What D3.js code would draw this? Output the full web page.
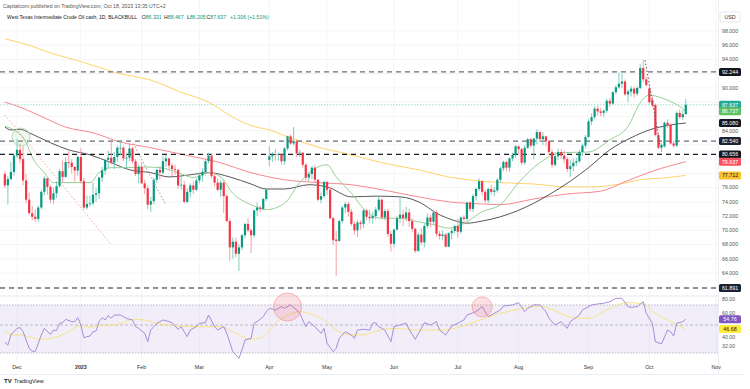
<!DOCTYPE html>
<html>
<head>
<meta charset="utf-8">
<script src="https://cdnjs.cloudflare.com/ajax/libs/d3/7.8.5/d3.min.js"></script>
<style>
  body { margin: 0; background: #fff; }
  svg { display: block; font-family: "Liberation Sans", Arial, sans-serif; }
</style>
</head>
<body>
<div id="chart"></div>
<script>
// trading calendar: weekdays minus US market holidays
const holidays = ["2022-12-26", "2023-01-02", "2023-01-16", "2023-02-20", "2023-04-07",
                  "2023-05-29", "2023-06-19", "2023-07-04", "2023-09-04"];
const firstDay = "2022-11-25", axisEndDay = "2023-11-02";
const monthLabels = ["Dec", "2023", "Feb", "Mar", "Apr", "May", "Jun", "Jul", "Aug", "Sep", "Oct", "Nov"];

// daily candles, Nov 25 2022 -> Oct 18 2023 (one row per month)
const open = [
  77.9, 76.3, 77.2, 78.2,
  80.5, 81.3, 80.0, 77.0, 74.3, 72.4, 71.9, 71.6, 73.2, 75.4, 77.3, 76.1, 74.3, 75.2, 76.2, 78.3, 77.5, 79.6, 79.5, 78.9, 78.4,
  80.3, 76.9, 73.2, 73.7, 73.8, 75.0, 75.2, 77.4, 78.4, 79.9, 80.2, 79.5, 80.3, 81.6, 81.6, 80.1, 80.2, 81.5, 79.7, 77.9,
  78.9, 76.6, 75.9, 73.6, 74.1, 77.1, 78.5, 78.1, 79.7, 80.1, 79.1, 78.6, 78.5, 76.3, 76.4, 74.0, 75.4, 76.3, 75.7,
  77.0, 77.7, 78.2, 79.7, 80.5, 77.6, 76.7, 75.7, 76.7, 74.8, 71.3, 67.6, 68.4, 66.7, 67.6, 69.3, 70.9, 70.0, 69.3, 72.8, 73.2, 73.0, 74.4,
  79.9, 80.4, 80.7, 80.6, 80.7, 79.7, 81.5, 83.2, 82.2, 82.5, 80.8, 80.9, 79.2, 77.4, 77.9, 78.8, 77.1, 74.3, 74.8,
  76.8, 75.7, 71.7, 68.7, 68.5, 71.3, 73.2, 73.7, 72.6, 70.9, 70.0, 71.1, 70.9, 72.8, 71.9, 71.7, 72.0, 72.9, 74.3, 71.8, 72.7, 69.5,
  68.1, 70.1, 71.7, 72.2, 71.7, 72.5, 71.3, 70.2, 67.1, 69.4, 68.3, 70.6, 71.8, 71.2, 72.5, 69.5, 69.2, 69.4, 67.7, 69.6, 69.9,
  70.6, 69.8, 71.8, 71.6, 73.9, 73.0, 74.8, 75.8, 76.9, 75.4, 74.2, 75.8, 75.4, 75.6, 77.1, 78.7, 79.6, 78.8, 80.1, 80.6,
  81.8, 81.4, 79.5, 81.6, 82.8, 81.9, 82.9, 83.8, 82.8, 83.2, 82.5, 81.0, 79.2, 80.4, 81.0, 80.5, 80.0, 78.6, 79.0, 79.5, 79.7, 81.0, 81.9,
  83.1, 85.3, 85.9, 87.1, 86.7, 86.5, 86.8, 88.2, 87.8, 89.4, 90.1, 90.6, 90.9, 89.1, 89.5, 89.9, 89.2, 90.0, 92.8, 91.2,
  89.9, 88.3, 87.6, 83.4, 81.6, 81.8, 85.1, 84.8, 82.2, 81.9, 86.5, 85.9, 86.331
];
const high = [
  78.3, 77.6, 79.6, 80.7,
  82.8, 82.2, 81.8, 77.9, 75.3, 73.4, 72.9, 73.5, 75.7, 77.6, 77.4, 76.4, 76.0, 76.9, 78.6, 79.8, 80.3, 81.2, 80.0, 79.0, 80.5,
  81.5, 77.4, 74.9, 74.9, 76.7, 75.9, 77.5, 78.9, 80.0, 81.2, 82.4, 81.0, 81.9, 82.7, 81.9, 80.7, 82.2, 81.7, 80.0, 79.2,
  79.6, 77.1, 76.3, 74.7, 77.4, 78.6, 79.0, 80.4, 80.6, 80.2, 79.4, 79.2, 78.6, 77.7, 76.9, 75.9, 76.6, 76.9, 77.3,
  78.1, 78.7, 80.0, 80.9, 80.7, 78.0, 77.3, 77.1, 77.0, 75.1, 71.7, 69.0, 69.0, 68.0, 69.5, 71.0, 71.7, 70.2, 72.9, 73.9, 73.5, 74.6, 75.8,
  81.8, 81.0, 81.4, 80.9, 80.8, 81.7, 83.3, 83.5, 84.5, 82.8, 81.3, 81.0, 79.5, 78.2, 79.0, 79.1, 77.2, 75.3, 76.9,
  76.9, 76.1, 71.9, 69.9, 71.5, 73.4, 74.0, 74.0, 73.0, 71.3, 71.4, 71.4, 73.0, 73.0, 72.9, 72.6, 73.3, 74.7, 74.4, 73.0, 73.0, 69.9,
  70.2, 72.0, 74.6, 72.9, 73.3, 73.0, 71.7, 70.4, 69.7, 70.3, 71.0, 72.4, 72.2, 72.8, 72.8, 69.9, 70.0, 69.6, 69.7, 70.2, 70.8,
  71.6, 71.9, 72.1, 74.0, 74.1, 75.1, 76.0, 77.3, 77.0, 75.7, 76.0, 76.4, 76.1, 77.3, 78.9, 79.8, 79.8, 80.2, 80.9, 82.0,
  81.9, 81.6, 82.0, 83.0, 83.0, 82.9, 84.2, 84.0, 83.8, 83.3, 82.7, 81.4, 81.0, 81.5, 81.4, 81.2, 80.3, 79.9, 80.1, 80.2, 81.3, 82.2, 83.4,
  85.6, 86.4, 87.4, 87.5, 87.2, 87.0, 88.5, 88.6, 89.6, 90.4, 92.2, 92.0, 91.2, 89.8, 90.3, 90.2, 90.3, 93.4, 93.9, 91.6,
  90.3, 88.8, 87.8, 83.6, 82.2, 85.3, 85.6, 85.0, 82.6, 86.7, 87.0, 86.9, 88.467
];
const low = [
  75.9, 73.6, 77.0, 77.7,
  80.2, 79.4, 76.3, 73.8, 72.2, 71.4, 71.2, 71.2, 72.9, 74.9, 75.0, 73.8, 73.7, 74.5, 76.0, 76.8, 77.4, 78.7, 78.0, 76.8, 77.7,
  76.6, 72.9, 72.9, 73.3, 73.5, 74.0, 74.4, 76.8, 77.8, 78.7, 79.2, 78.6, 79.6, 80.5, 79.7, 78.7, 79.7, 79.4, 77.6, 76.6,
  76.5, 75.1, 73.0, 72.6, 73.6, 76.6, 77.1, 77.8, 78.9, 78.4, 77.6, 77.8, 75.8, 75.7, 73.8, 73.8, 74.6, 75.1, 75.5,
  76.6, 76.8, 77.7, 79.4, 77.3, 76.2, 75.5, 74.7, 72.4, 71.1, 65.7, 66.0, 66.2, 64.3, 67.2, 68.9, 69.7, 66.8, 69.0, 72.0, 72.5, 72.8, 74.1,
  79.0, 79.6, 79.8, 79.8, 79.2, 79.2, 81.2, 82.0, 81.9, 80.3, 80.3, 78.8, 77.0, 76.9, 77.2, 76.6, 74.1, 73.8, 74.5,
  75.0, 71.5, 67.9, 63.6, 68.4, 71.0, 72.4, 71.9, 70.6, 69.4, 69.1, 70.1, 70.3, 71.4, 71.1, 70.9, 71.5, 72.6, 71.5, 71.4, 69.1, 67.0,
  67.6, 70.0, 71.0, 70.6, 71.3, 70.5, 69.7, 66.8, 67.0, 67.9, 67.6, 70.3, 70.4, 70.8, 69.1, 68.7, 68.6, 67.6, 67.6, 68.7, 69.6,
  69.0, 69.5, 70.8, 71.4, 72.6, 72.6, 74.2, 75.5, 74.9, 73.9, 73.8, 75.0, 74.8, 75.3, 76.7, 78.3, 78.3, 78.2, 79.7, 80.2,
  80.6, 79.1, 79.2, 81.4, 81.6, 80.0, 82.1, 82.4, 82.0, 81.8, 80.6, 78.8, 79.0, 79.9, 80.0, 79.4, 78.2, 77.5, 78.3, 79.0, 79.5, 80.4, 81.5,
  83.0, 84.8, 85.6, 86.1, 86.0, 85.9, 86.5, 87.3, 87.6, 89.1, 89.9, 90.0, 88.9, 88.0, 88.8, 88.6, 88.9, 89.8, 90.8, 90.2,
  87.8, 87.3, 83.2, 81.4, 81.0, 81.6, 84.4, 82.0, 81.6, 81.7, 85.6, 85.5, 86.205
];
const close = [
  76.3, 77.2, 78.2, 80.5,
  81.3, 80.0, 77.0, 74.3, 72.4, 71.9, 71.6, 73.2, 75.4, 77.3, 76.1, 74.3, 75.2, 76.2, 78.3, 77.5, 79.6, 79.5, 78.9, 78.4, 80.3,
  76.9, 73.2, 73.7, 73.8, 75.0, 75.2, 77.4, 78.4, 79.9, 80.2, 79.5, 80.3, 81.6, 81.6, 80.1, 80.2, 81.5, 79.7, 77.9, 78.9,
  76.6, 75.9, 73.6, 74.1, 77.1, 78.5, 78.1, 79.7, 80.1, 79.1, 78.6, 78.5, 76.3, 76.4, 74.0, 75.4, 76.3, 75.7, 77.0,
  77.7, 78.2, 79.7, 80.5, 77.6, 76.7, 75.7, 76.7, 74.8, 71.3, 67.6, 68.4, 66.7, 67.6, 69.3, 70.9, 70.0, 69.3, 72.8, 73.2, 73.0, 74.4, 75.7,
  80.4, 80.7, 80.6, 80.7, 79.7, 81.5, 83.2, 82.2, 82.5, 80.8, 80.9, 79.2, 77.4, 77.9, 78.8, 77.1, 74.3, 74.8, 76.8,
  75.7, 71.7, 68.6, 68.5, 71.3, 73.2, 73.7, 72.6, 70.9, 70.0, 71.1, 70.9, 72.8, 71.9, 71.7, 72.0, 72.9, 74.3, 71.8, 72.7, 69.5, 68.1,
  70.1, 71.7, 72.2, 71.7, 72.5, 71.3, 70.2, 67.1, 69.4, 68.3, 70.6, 71.8, 71.2, 72.5, 69.5, 69.2, 69.4, 67.7, 69.6, 69.9, 70.6,
  69.8, 71.8, 71.6, 73.9, 73.0, 74.8, 75.8, 76.9, 75.4, 74.2, 75.8, 75.4, 75.6, 77.1, 78.7, 79.6, 78.8, 80.1, 80.6, 81.8,
  81.4, 79.5, 81.6, 82.8, 81.9, 82.9, 83.8, 82.8, 83.2, 82.5, 81.0, 79.2, 80.4, 81.0, 80.5, 80.0, 78.6, 79.0, 79.5, 79.7, 81.0, 81.9, 83.1,
  85.3, 85.9, 87.1, 86.7, 86.5, 86.8, 88.2, 87.8, 89.4, 90.1, 90.6, 90.9, 89.1, 89.5, 89.9, 89.2, 90.0, 92.8, 91.2, 90.4,
  88.0, 87.6, 83.4, 81.6, 82.0, 85.1, 84.8, 82.2, 81.9, 86.5, 85.9, 86.331, 87.637
];

// moving averages at sample bars
const ma20Bars = [0, 3, 7, 9, 13, 16, 20, 25, 28, 31, 35, 40, 45, 51, 57, 62, 67, 71, 75, 81, 86, 92, 97, 103, 106, 109, 114, 119, 124, 130, 136, 141, 146, 152, 157, 163, 169, 176, 183, 192, 199, 205, 209, 212, 216, 219, 222, 224];
const ma20Vals = [84.6, 84.1, 82.3, 80.3, 78.1, 76.7, 76.7, 76.7, 76.7, 78.1, 78.8, 78.8, 78.9, 78.8, 78.1, 77.4, 78.1, 77.5, 75.2, 73.6, 72.9, 73.8, 76.7, 78.9, 79.2, 77.5, 75.2, 72.6, 71.7, 71.7, 71.2, 70.8, 70.3, 71.2, 72.6, 73.6, 76.7, 79.5, 80.9, 81.0, 82.7, 84.6, 87.9, 89.0, 88.6, 88.1, 87.4, 86.737];
const ma50Bars = [0, 2, 5, 8, 15, 21, 28, 35, 41, 48, 54, 61, 67, 74, 81, 86, 92, 100, 106, 114, 122, 130, 137, 142, 147, 152, 157, 163, 174, 179, 186, 192, 199, 206, 212, 219, 224];
const ma50Vals = [84.5, 84.1, 84.2, 83.7, 82.3, 81.3, 80.6, 79.5, 78.5, 78.1, 77.5, 77.8, 78.1, 77.5, 76.5, 75.8, 75.8, 76.4, 76.1, 74.7, 74.8, 74.7, 73.8, 72.4, 71.5, 71.0, 71.3, 71.9, 73.8, 75.0, 76.9, 78.8, 81.3, 83.0, 84.1, 84.8, 85.08];
const ma100Bars = [0, 5, 13, 20, 29, 38, 48, 59, 70, 81, 92, 103, 114, 124, 136, 146, 157, 163, 174, 185, 196, 205, 213, 224];
const ma100Vals = [88.0, 87.3, 85.8, 84.5, 83.7, 82.4, 81.6, 80.6, 79.6, 78.1, 77.1, 76.7, 76.4, 75.7, 74.7, 74.0, 73.7, 73.6, 74.4, 75.1, 75.5, 77.0, 78.3, 79.637];
const ma200Bars = [0, 8, 15, 21, 31, 36, 48, 58, 67, 75, 81, 87, 95, 103, 114, 124, 136, 146, 157, 163, 174, 185, 193, 201, 209, 218, 224];
const ma200Vals = [96.9, 96.0, 94.9, 94.2, 92.9, 92.2, 91.1, 89.4, 88.0, 85.9, 84.7, 84.1, 82.8, 81.7, 80.6, 79.5, 78.5, 77.5, 76.9, 76.7, 76.5, 76.1, 76.1, 76.4, 77.1, 77.4, 77.712];

// RSI(14) and its moving average, read at sample bars
const rsiBars = [0, 1, 2, 4, 5, 6, 7, 8, 9, 10, 11, 12, 13, 15, 16, 17, 18, 19, 20, 22, 23, 24, 25, 26, 27, 28, 29, 30, 31, 32, 33, 34, 35, 36, 38, 40, 41, 42, 43, 44, 46, 47, 48, 50, 52, 53, 55, 57, 58, 60, 61, 63, 64, 66, 67, 69, 70, 72, 73, 75, 76, 77, 78, 79, 81, 82, 83, 85, 86, 87, 89, 91, 92, 94, 96, 97, 99, 100, 102, 104, 105, 106, 108, 109, 110, 112, 114, 115, 116, 118, 120, 121, 122, 123, 125, 127, 128, 130, 132, 133, 135, 137, 138, 140, 142, 143, 145, 147, 149, 151, 152, 155, 157, 159, 161, 163, 164, 167, 169, 171, 172, 174, 176, 178, 179, 181, 183, 185, 186, 189, 190, 193, 195, 197, 199, 201, 203, 205, 206, 208, 210, 211, 213, 214, 216, 218, 219, 220, 221, 223, 224];
const rsiVals = [35.6, 33.3, 41.7, 47.2, 47.8, 44.4, 37.5, 30.6, 28.3, 27.9, 34.7, 41.7, 47.2, 42.2, 45.8, 45.3, 51.4, 51.9, 54.7, 52.8, 52.8, 56.1, 50.0, 39.4, 40.3, 40.8, 44.4, 45.0, 52.8, 56.1, 54.2, 57.8, 55.6, 58.3, 58.3, 55.6, 54.7, 54.2, 48.6, 47.2, 43.1, 36.1, 45.8, 51.4, 54.2, 53.6, 51.9, 46.4, 48.6, 40.3, 45.8, 48.6, 51.4, 51.9, 58.3, 48.6, 45.8, 48.6, 43.1, 27.8, 25.0, 22.2, 29.2, 37.5, 38.9, 51.4, 52.8, 56.9, 61.1, 63.9, 62.5, 65.3, 63.9, 66.7, 62.5, 59.7, 48.6, 52.8, 48.6, 43.1, 47.2, 34.7, 27.8, 30.6, 38.9, 44.4, 41.7, 38.9, 45.8, 46.4, 45.8, 51.4, 52.0, 48.6, 45.8, 36.1, 48.6, 50.0, 51.4, 46.4, 38.1, 47.2, 51.9, 50.0, 52.8, 45.8, 41.7, 49.2, 51.4, 54.2, 58.3, 61.1, 65.3, 56.9, 59.7, 62.5, 65.8, 66.7, 68.6, 61.1, 63.9, 66.7, 66.7, 61.1, 55.6, 50.0, 52.8, 47.2, 52.8, 58.3, 62.5, 66.7, 67.5, 68.1, 69.4, 72.2, 72.2, 65.3, 64.7, 65.3, 69.4, 59.7, 51.4, 36.1, 34.2, 45.8, 44.4, 40.8, 51.4, 52.8, 54.76];
const rsiMaBars = [0, 3, 5, 9, 12, 18, 21, 25, 28, 31, 38, 42, 46, 50, 57, 64, 71, 75, 81, 85, 89, 94, 97, 100, 105, 109, 114, 118, 122, 128, 136, 144, 150, 157, 163, 169, 176, 181, 188, 192, 198, 205, 210, 214, 218, 224];
const rsiMaVals = [44.4, 41.7, 41.7, 39.4, 38.0, 40.8, 44.4, 49.5, 48.2, 49.3, 51.0, 54.7, 54.2, 51.4, 49.2, 48.6, 48.6, 44.4, 38.1, 40.3, 51.4, 59.2, 61.1, 59.7, 54.2, 45.8, 41.7, 41.7, 44.8, 47.2, 45.8, 45.8, 48.6, 54.7, 59.7, 63.1, 65.8, 61.7, 55.6, 55.6, 62.5, 68.6, 67.5, 59.7, 54.2, 46.68];
const rsiBands = [66.7, 50, 26.7];

// horizontal levels and hand drawn annotations (bar, price)
const levels = [92.244, 82.540, 80.656, 61.891];
const trendLines = [[0, 86.2, 34.6, 68.2], [42.2, 82.2, 52.7, 73.8], [210.6, 93.9, 215.5, 82.0]];
const priceTicks = d3.range(64, 99, 2);
const rsiTicks = [80, 60, 40, 32];

// ---------- layout ----------
const W = 750, H = 389;
const plotRight = 718;
const rsiTop = 296, rsiBottom = 362;

const parseDay = d3.utcParse("%Y-%m-%d");
const fmtDay = d3.utcFormat("%Y-%m-%d");
const days = d3.utcDay.range(parseDay(firstDay), parseDay(axisEndDay))
  .filter(d => d.getUTCDay() % 6 !== 0 && !holidays.includes(fmtDay(d)));

// first trading day of each month -> tick
const monthTicks = [];
days.forEach((d, i) => {
  if (i > 0 && d.getUTCMonth() !== days[i - 1].getUTCMonth()) monthTicks.push(i);
});

const x = d3.scaleLinear().domain([0, 234]).range([4.84, 716.2]);
const y = d3.scaleLinear().domain([64, 98]).range([273, 31]);
const yr = d3.scaleLinear().domain([40, 60]).range([337, 313]);

const svg = d3.select("#chart").append("svg")
  .attr("width", W).attr("height", H);

const defs = svg.append("defs");
defs.append("clipPath").attr("id", "pricePane")
  .append("rect").attr("x", 0).attr("y", 0).attr("width", plotRight).attr("height", rsiTop);
defs.append("clipPath").attr("id", "rsiPane")
  .append("rect").attr("x", 0).attr("y", rsiTop).attr("width", plotRight).attr("height", rsiBottom - rsiTop);

// grid
const grid = svg.append("g");
grid.selectAll(".hg").data(priceTicks.concat([62])).enter().append("line")
  .attr("x1", 0).attr("x2", plotRight)
  .attr("y1", d => y(d)).attr("y2", d => y(d))
  .attr("stroke", "#f2f3f7").attr("stroke-width", 0.8);
grid.selectAll(".vg").data(monthTicks).enter().append("line")
  .attr("x1", d => x(d)).attr("x2", d => x(d))
  .attr("y1", 0).attr("y2", rsiBottom)
  .attr("stroke", "#f2f3f7").attr("stroke-width", 0.8);

// pane borders
svg.append("line").attr("x1", 0).attr("x2", plotRight).attr("y1", rsiTop).attr("y2", rsiTop)
  .attr("stroke", "#e6e8ee").attr("stroke-width", 1);
svg.append("line").attr("x1", plotRight + 0.5).attr("x2", plotRight + 0.5).attr("y1", 0).attr("y2", 374)
  .attr("stroke", "#eceef3").attr("stroke-width", 1);
svg.append("line").attr("x1", 0).attr("x2", 745).attr("y1", 374.5).attr("y2", 374.5)
  .attr("stroke", "#eceef3").attr("stroke-width", 1);

// ---------- price pane ----------
const price = svg.append("g").attr("clip-path", "url(#pricePane)");

const maLine = d3.line().curve(d3.curveMonotoneX);
const mas = [
  { bars: ma200Bars, vals: ma200Vals, color: "#ffd36b", w: 1 },
  { bars: ma100Bars, vals: ma100Vals, color: "#f7888e", w: 1 },
  { bars: ma50Bars, vals: ma50Vals, color: "#444", w: 0.9 },
  { bars: ma20Bars, vals: ma20Vals, color: "#95d095", w: 1 }
];
mas.forEach(m => {
  price.append("path")
    .attr("d", maLine(m.bars.map((b, i) => [x(b), y(m.vals[i])])))
    .attr("fill", "none").attr("stroke", m.color).attr("stroke-width", m.w);
});

const last = close.length - 1;

// current price line
price.append("line")
  .attr("x1", 0).attr("x2", plotRight)
  .attr("y1", y(close[last])).attr("y2", y(close[last]))
  .attr("stroke", "#9fdccf").attr("stroke-width", 1).attr("stroke-dasharray", "1.5,1.5");

// levels
price.selectAll(".lvl").data(levels).enter().append("line")
  .attr("x1", 0).attr("x2", plotRight)
  .attr("y1", d => y(d)).attr("y2", d => y(d))
  .attr("stroke", (d, i) => i === 2 ? "#1b1d24" : "#6b6e78")
  .attr("stroke-width", 1.3)
  .attr("stroke-dasharray", "5,4");

// candles
const bars = d3.range(close.length);
const up = i => close[i] >= open[i];
const cg = price.append("g");
cg.selectAll(".wick").data(bars).enter().append("line")
  .attr("x1", i => x(i)).attr("x2", i => x(i))
  .attr("y1", i => y(high[i])).attr("y2", i => y(low[i]))
  .attr("stroke", i => up(i) ? "#71c7b6" : "#f7939b")
  .attr("stroke-width", 0.9);
cg.selectAll(".body").data(bars).enter().append("rect")
  .attr("x", i => x(i) - 1.1)
  .attr("width", 2.2)
  .attr("y", i => y(Math.max(open[i], close[i])))
  .attr("height", i => Math.max(0.8, Math.abs(y(open[i]) - y(close[i]))))
  .attr("fill", i => up(i) ? "#089981" : "#f23645");

// drawings
trendLines.forEach((t, k) => {
  price.append("line")
    .attr("x1", x(t[0])).attr("y1", y(t[1]))
    .attr("x2", x(t[2])).attr("y2", y(t[3]))
    .attr("stroke", k === 0 ? "#f7a0a6" : (k === 1 ? "#9a9ca3" : "#555"))
    .attr("stroke-width", 1)
    .attr("stroke-dasharray", "1.5,2");
});
price.append("circle")
  .attr("cx", x(5.3)).attr("cy", y(83.1)).attr("r", 9)
  .attr("fill", "rgba(129,199,132,0.12)").attr("stroke", "#a5d6a7").attr("stroke-width", 0.8);

// ---------- RSI pane ----------
const rsi = svg.append("g").attr("clip-path", "url(#rsiPane)");
rsi.append("rect")
  .attr("x", 0).attr("width", plotRight)
  .attr("y", yr(rsiBands[0])).attr("height", yr(rsiBands[2]) - yr(rsiBands[0]))
  .attr("fill", "rgba(126,87,194,0.1)");
rsi.selectAll(".band").data(rsiBands).enter().append("line")
  .attr("x1", 0).attr("x2", plotRight)
  .attr("y1", d => yr(d)).attr("y2", d => yr(d))
  .attr("stroke", "#b2b5be").attr("stroke-width", 0.9)
  .attr("stroke-dasharray", (d, i) => i === 1 ? "3,2" : "1.5,1.5");

rsi.append("path")
  .attr("d", d3.line().curve(d3.curveMonotoneX)(rsiMaBars.map((b, i) => [x(b), yr(rsiMaVals[i])])))
  .attr("fill", "none").attr("stroke", "#f5e27a").attr("stroke-width", 0.9);
rsi.append("path")
  .attr("d", d3.line()(rsiBars.map((b, i) => [x(b), yr(rsiVals[i])])))
  .attr("fill", "none").attr("stroke", "#9c82d4").attr("stroke-width", 0.9);

// highlight circles
[[93, 65, 14], [157, 65, 10]].forEach(c => {
  svg.append("circle")
    .attr("cx", x(c[0])).attr("cy", yr(c[1])).attr("r", c[2])
    .attr("fill", "rgba(242,54,69,0.15)").attr("stroke", "#f7a0a6").attr("stroke-width", 0.8);
});

// ---------- right scale tags ----------
const tags = [
  { v: levels[0], bg: "#131722", fg: "#fff", s: y },
  { v: close[last], bg: "#22ab94", fg: "#fff", s: y },
  { v: ma20Vals[ma20Vals.length - 1], bg: "#5fbf63", fg: "#fff", s: y },
  { v: ma50Vals[ma50Vals.length - 1], bg: "#131722", fg: "#fff", s: y },
  { v: levels[1], bg: "#1e2235", fg: "#fff", s: y },
  { v: levels[2], bg: "#131722", fg: "#fff", s: y },
  { v: ma100Vals[ma100Vals.length - 1], bg: "#f7525f", fg: "#fff", s: y },
  { v: ma200Vals[ma200Vals.length - 1], bg: "#fbc02d", fg: "#131722", s: y },
  { v: levels[3], bg: "#1e2235", fg: "#fff", s: y },
  { v: rsiVals[rsiVals.length - 1], bg: "#7e57c2", fg: "#fff", s: yr, d: 2 },
  { v: rsiMaVals[rsiMaVals.length - 1], bg: "#ffeb3b", fg: "#131722", s: yr, d: 2 }
];
const tagYs = tags.map(t => t.s(t.v));
const clear = py => tagYs.every(ty => Math.abs(ty - py) >= 6);

// ---------- axes ----------
const axisFont = 5.3;
const ax = svg.append("g").attr("font-size", axisFont).attr("fill", "#555");

// ticks that sit under a tag are covered, as on the scale itself
ax.selectAll(".pt").data(priceTicks.filter(d => clear(y(d)))).enter().append("text")
  .attr("x", 722).attr("y", d => y(d)).attr("dy", "0.35em")
  .text(d => d3.format(".3f")(d));

// RSI ticks stay inside the RSI pane
const rsiTickY = d => Math.max(yr(d), rsiTop + 3);
ax.selectAll(".rt").data(rsiTicks.filter(d => clear(rsiTickY(d)))).enter().append("text")
  .attr("x", 722).attr("y", d => rsiTickY(d)).attr("dy", "0.35em")
  .text(d => d3.format(".2f")(d));

ax.selectAll(".mt").data(monthTicks).enter().append("text")
  .attr("x", d => x(d)).attr("y", 367).attr("dy", "0.35em")
  .attr("text-anchor", "middle")
  .attr("font-weight", (d, i) => monthLabels[i] === "2023" ? "bold" : null)
  .attr("fill", "#333")
  .text((d, i) => monthLabels[i]);

tags.forEach((t, k) => {
  const cy = tagYs[k];
  svg.append("rect").attr("x", 719).attr("y", cy - 4).attr("width", 22).attr("height", 8).attr("rx", 1.5)
    .attr("fill", t.bg);
  svg.append("text").attr("x", 730).attr("y", cy).attr("dy", "0.35em")
    .attr("text-anchor", "middle").attr("font-size", axisFont).attr("fill", t.fg)
    .text(d3.format(t.d ? ".2f" : ".3f")(t.v));
});

// USD tag
svg.append("rect").attr("x", 720).attr("y", 12).attr("width", 20).attr("height", 10).attr("rx", 2)
  .attr("fill", "#fff").attr("stroke", "#e0e3eb").attr("stroke-width", 0.8);
svg.append("text").attr("x", 730).attr("y", 17).attr("dy", "0.35em")
  .attr("text-anchor", "middle").attr("font-size", axisFont).attr("fill", "#333").text("USD");

// ---------- header ----------
const hdr = svg.append("g").attr("font-size", 5.2);
hdr.append("text").attr("x", 3).attr("y", 6).attr("dy", "0.35em").attr("fill", "#555")
  .text("Capitalcom published on TradingView.com, Oct 18, 2023 13:35 UTC+2");
hdr.append("text").attr("x", 7).attr("y", 17).attr("dy", "0.35em").attr("fill", "#131722")
  .attr("font-size", 5)
  .text("West Texas Intermediate Crude Oil cash, 1D, BLACKBULL");
const l2 = hdr.append("text").attr("x", 141.7).attr("y", 17).attr("dy", "0.35em");
const ohlc = [["O", open[last]], ["H", high[last]], ["L", low[last]], ["C", close[last]]];
const ohlcX = [141.7, 164, 187, 206.5];
ohlc.forEach((p, i) => {
  l2.append("tspan").attr("x", ohlcX[i]).attr("fill", "#131722").text(p[0]);
  l2.append("tspan").attr("fill", "#089981").text(d3.format(".3f")(p[1]));
});
const chg = close[last] - close[last - 1];
l2.append("tspan").attr("x", 230).attr("fill", "#089981")
  .text("+" + d3.format(".3f")(chg) + " (+" + d3.format(".2f")(chg / close[last - 1] * 100) + "%)");

// ---------- footer ----------
const ft = svg.append("g");
ft.append("text").attr("x", 4).attr("y", 381).attr("dy", "0.35em")
  .attr("font-size", 6).attr("font-weight", "bold").attr("fill", "#131722").text("TV");
ft.append("text").attr("x", 14).attr("y", 381).attr("dy", "0.35em")
  .attr("font-size", 5.4).attr("fill", "#131722").text("TradingView");
</script>
</body>
</html>
